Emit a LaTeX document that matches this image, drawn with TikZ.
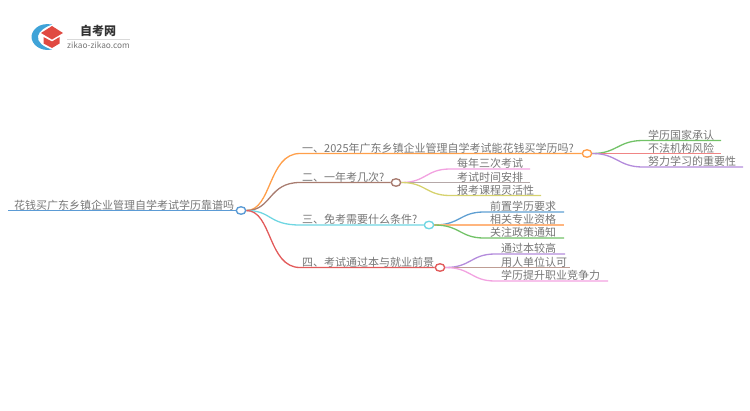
\documentclass[tikz,border=0pt]{standalone}
\usepackage{fontspec}
\setmainfont{Noto Sans CJK SC}
\usetikzlibrary{shapes.geometric, positioning}
\definecolor{rootblue}{HTML}{5B9BD5}
\definecolor{brorange}{HTML}{FF9F4A}
\definecolor{brbrown}{HTML}{A87C70}
\definecolor{brcyan}{HTML}{6FD6E2}
\definecolor{brred}{HTML}{E25B5B}
\definecolor{lfgreen}{HTML}{72C267}
\definecolor{lfred}{HTML}{F08585}
\definecolor{lfpurple}{HTML}{B48CDC}
\definecolor{lfpink}{HTML}{F2A2E0}
\definecolor{lfgrey}{HTML}{B5A8A8}
\definecolor{lfolive}{HTML}{D6D26E}
\definecolor{lfblue}{HTML}{5F9FD2}
\definecolor{lforange}{HTML}{FFB57E}
\definecolor{lfbrown}{HTML}{BF9D94}
\definecolor{txtgrey}{HTML}{767676}
\definecolor{logored}{HTML}{E04A42}
\definecolor{logoblue}{HTML}{3FA3D8}

\begin{document}
\begin{tikzpicture}[
  x=1pt, y=-1pt,
  hub/.style={draw, fill=white, ellipse, line width=1.4pt, minimum width=9.5pt, minimum height=7.5pt, inner sep=0pt},
  lab/.style={anchor=base west, inner sep=0pt, yshift=-1.5pt, text=txtgrey, font=\fontsize{11}{11}\selectfont},
  conn/.style={line width=1.3pt}
]
  \useasboundingbox (0, 0) rectangle (750, 410);

  % logo
  \fill[logoblue] (52, 24.5) .. controls (38, 22) and (31.5, 31) .. (31.5, 37) .. controls (31.5, 44) and (40, 52) .. (52, 49.5)
    .. controls (43, 47) and (37, 42) .. (38, 36) .. controls (39, 31) and (45, 27) .. (52, 24.5);
  \fill[logored] (52, 26) -- (63, 33) -- (52, 39.5) -- (41, 33) -- cycle;
  \fill[logored] (43.5, 37) -- (52, 41.5) -- (59.5, 37) -- (59.5, 43.5) -- (52, 48) -- (43.5, 43.5) -- cycle;
  \node[anchor=base, inner sep=0pt, text=black!80, font=\fontsize{12}{12}\selectfont\bfseries] (logotitle) at (98, 35) {自考网};
  \node[anchor=base, inner sep=0pt, text=txtgrey, font=\fontsize{8.3}{9}\selectfont] (logourl) at (98.5, 48) {zikao-zikao.com};
  \coordinate (logol) at (67, 39.5);
  \coordinate (logor) at (130, 39.5);
  \draw[black!15, line width=0.5pt] (logol) -- (logor);

  % hubs
  \node[hub, draw=rootblue] (root) at (241, 210.5) {};
  \node[hub, draw=brorange] (hubone) at (587, 153.5) {};
  \node[hub, draw=brbrown] (hubtwo) at (396, 182.5) {};
  \node[hub, draw=brcyan] (hubthree) at (429, 225) {};
  \node[hub, draw=brred] (hubfour) at (440, 267.5) {};

  % root
  \coordinate (rootend) at (8, 210.5);
  \draw[rootblue, line width=1.6pt] (rootend) -- (root);
  \node[lab] (roottext) at (14, 207.5) {花钱买广东乡镇企业管理自学考试学历靠谱吗};

  % branches
  \coordinate (bendone) at (300, 153.5);
  \coordinate (bendtwo) at (300, 182.5);
  \coordinate (bendthree) at (300, 225);
  \coordinate (bendfour) at (300, 267.5);
  \draw[conn, brorange] (root.east) .. controls (272, 210.5) and (268, 153.5) .. (bendone) -- (hubone);
  \draw[conn, brbrown] (root.east) .. controls (272, 210.5) and (268, 182.5) .. (bendtwo) -- (hubtwo);
  \draw[conn, brcyan] (root.east) .. controls (272, 210.5) and (268, 225) .. (bendthree) -- (hubthree);
  \draw[conn, brred] (root.east) .. controls (272, 210.5) and (268, 267.5) .. (bendfour) -- (hubfour);
  \node[lab] (textone) at (302, 150.5) {一、2025年广东乡镇企业管理自学考试能花钱买学历吗?};
  \node[lab] (texttwo) at (302, 179.5) {二、一年考几次?};
  \node[lab] (textthree) at (302, 222) {三、免考需要什么条件?};
  \node[lab] (textfour) at (302, 264.5) {四、考试通过本与就业前景};

  % leaves of branch one
  \coordinate (bendoa) at (643, 140.5);
  \coordinate (endoa) at (721, 140.5);
  \coordinate (endob) at (721, 153.5);
  \coordinate (bendoc) at (643, 167);
  \coordinate (endoc) at (743, 167);
  \draw[conn, lfgreen] (hubone.east) .. controls (617, 153.5) and (618, 140.5) .. (bendoa) -- (endoa);
  \draw[conn, lfred] (hubone.east) -- (endob);
  \draw[conn, lfpurple] (hubone.east) .. controls (617, 153.5) and (618, 167) .. (bendoc) -- (endoc);
  \node[lab] (leafoa) at (648, 137.5) {学历国家承认};
  \node[lab] (leafob) at (648, 150.5) {不法机构风险};
  \node[lab] (leafoc) at (648, 164) {努力学习的重要性};

  % leaves of branch two
  \coordinate (bendta) at (450, 169);
  \coordinate (endta) at (530, 169);
  \coordinate (endtb) at (530, 182.5);
  \coordinate (bendtc) at (450, 195.5);
  \coordinate (endtc) at (541, 195.5);
  \draw[conn, lfpink] (hubtwo.east) .. controls (426, 182.5) and (426, 169) .. (bendta) -- (endta);
  \draw[conn, lfgrey] (hubtwo.east) -- (endtb);
  \draw[conn, lfolive] (hubtwo.east) .. controls (426, 182.5) and (426, 195.5) .. (bendtc) -- (endtc);
  \node[lab] (leafta) at (457, 166) {每年三次考试};
  \node[lab] (leaftb) at (457, 179.5) {考试时间安排};
  \node[lab] (leaftc) at (457, 192.5) {报考课程灵活性};

  % leaves of branch three
  \coordinate (bendra) at (484, 212);
  \coordinate (endra) at (564, 212);
  \coordinate (endrb) at (564, 225);
  \coordinate (bendrc) at (484, 238);
  \coordinate (endrc) at (564, 238);
  \draw[conn, lfblue] (hubthree.east) .. controls (460, 225) and (460, 212) .. (bendra) -- (endra);
  \draw[conn, lforange] (hubthree.east) -- (endrb);
  \draw[conn, lfgreen] (hubthree.east) .. controls (460, 225) and (460, 238) .. (bendrc) -- (endrc);
  \node[lab] (leafra) at (490, 209) {前置学历要求};
  \node[lab] (leafrb) at (490, 222) {相关专业资格};
  \node[lab] (leafrc) at (490, 235) {关注政策通知};

  % leaves of branch four
  \coordinate (bendfa) at (495, 254);
  \coordinate (endfa) at (565, 254);
  \coordinate (endfb) at (570, 267.5);
  \coordinate (bendfc) at (495, 281);
  \coordinate (endfc) at (608, 281);
  \draw[conn, lfpurple] (hubfour.east) .. controls (471, 267.5) and (471, 254) .. (bendfa) -- (endfa);
  \draw[conn, lfbrown] (hubfour.east) -- (endfb);
  \draw[conn, lfpink] (hubfour.east) .. controls (471, 267.5) and (471, 281) .. (bendfc) -- (endfc);
  \node[lab] (leaffa) at (501, 251) {通过本较高};
  \node[lab] (leaffb) at (501, 264.5) {用人单位认可};
  \node[lab] (leaffc) at (501, 278) {学历提升职业竞争力};
\end{tikzpicture}
\end{document}
